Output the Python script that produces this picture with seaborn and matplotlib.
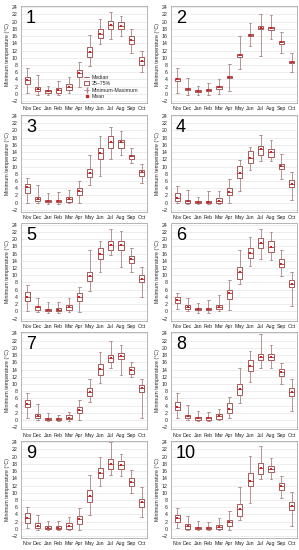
import pandas as pd
import matplotlib
matplotlib.use("Agg")
import matplotlib.pyplot as plt
import seaborn as sns
from matplotlib.lines import Line2D
from matplotlib.patches import Patch

sns.set_style("whitegrid")
plt.rcParams["font.family"] = ["Liberation Sans", "DejaVu Sans"]

months = ["Nov", "Dec", "Jan", "Feb", "Mar", "Apr", "May", "Jun", "Jul", "Aug", "Sep", "Oct"]

# per panel: minimum, 25%, median, 75%, maximum, mean (one value per month)
p1_min = [0.4, -0.3, -0.4, -0.3, 0.2, 2.0, 7.7, 13.8, 15.3, 15.9, 11.3, 6.1]
p1_q1 = [2.8, 0.8, 0.4, 0.4, 1.1, 4.6, 10.2, 15.5, 18.0, 18.0, 13.7, 7.9]
p1_med = [3.9, 1.3, 0.7, 1.1, 2.0, 5.7, 11.6, 16.6, 19.1, 18.9, 14.8, 9.1]
p1_q3 = [4.8, 2.0, 1.2, 1.7, 2.8, 6.6, 13.1, 18.0, 20.2, 20.0, 16.0, 10.2]
p1_max = [7.1, 5.1, 2.2, 3.7, 4.8, 8.9, 16.3, 20.6, 22.6, 21.6, 18.0, 12.0]
p1_mean = [3.9, 1.3, 0.7, 1.0, 2.0, 5.8, 11.6, 16.7, 19.1, 18.8, 14.8, 9.2]

p2_min = [0.3, -0.2, -0.3, -0.2, 0.1, 0.7, 6.9, 13.3, 10.5, 15.2, 11.3, 6.2]
p2_q1 = [3.7, 1.1, 0.5, 0.7, 1.5, 4.4, 10.3, 15.9, 17.9, 17.8, 13.9, 8.6]
p2_med = [4.0, 1.4, 0.8, 1.0, 1.8, 4.7, 10.7, 16.3, 18.3, 18.2, 14.3, 8.9]
p2_q3 = [4.3, 1.7, 1.1, 1.3, 2.1, 5.0, 11.1, 16.7, 18.7, 18.6, 14.7, 9.2]
p2_max = [7.1, 4.3, 2.3, 2.9, 4.1, 8.4, 16.0, 19.6, 22.2, 21.8, 17.1, 11.3]
p2_mean = [4.0, 1.4, 0.8, 1.0, 1.8, 4.7, 10.7, 16.3, 18.3, 18.2, 14.3, 8.9]

p3_min = [0.0, -0.2, -0.3, -0.3, -0.2, 0.0, 5.0, 7.5, 12.0, 13.3, 11.1, 5.4]
p3_q1 = [2.8, 0.5, 0.2, 0.2, 0.3, 2.0, 7.1, 12.2, 15.2, 15.2, 12.2, 7.5]
p3_med = [4.3, 1.1, 0.5, 0.5, 0.9, 3.1, 8.1, 13.8, 16.8, 16.7, 12.8, 8.4]
p3_q3 = [5.2, 1.7, 0.8, 0.8, 1.5, 4.1, 9.2, 15.2, 18.4, 17.3, 13.3, 9.0]
p3_max = [6.7, 5.0, 2.8, 3.0, 3.5, 6.1, 13.2, 18.5, 20.8, 19.9, 15.2, 10.8]
p3_mean = [4.4, 1.1, 0.5, 0.5, 1.0, 3.1, 8.1, 13.8, 16.8, 16.7, 12.8, 8.4]

p4_min = [-0.2, -0.3, -0.3, -0.3, -0.3, -0.2, 3.2, 9.1, 11.6, 11.4, 6.5, 0.7]
p4_q1 = [0.5, 0.0, 0.0, 0.0, -0.2, 2.0, 6.8, 11.1, 13.3, 12.6, 9.2, 4.3]
p4_med = [1.3, 0.4, 0.2, 0.2, 0.5, 3.0, 8.1, 12.4, 14.8, 13.9, 10.1, 5.1]
p4_q3 = [2.6, 0.8, 0.4, 0.5, 1.3, 4.1, 10.1, 14.2, 15.8, 14.8, 10.7, 6.2]
p4_max = [4.5, 3.4, 1.7, 3.1, 3.1, 6.5, 11.8, 15.4, 18.8, 17.3, 13.5, 8.4]
p4_mean = [1.3, 0.4, 0.2, 0.2, 0.5, 3.0, 8.1, 12.4, 14.8, 13.9, 10.1, 5.1]

p5_min = [0.0, -0.2, -0.3, -0.3, -0.2, -0.2, 5.6, 10.9, 15.6, 12.2, 10.8, 4.1]
p5_q1 = [2.8, 0.5, 0.1, 0.1, 0.3, 2.8, 8.4, 14.5, 17.1, 17.1, 13.3, 8.1]
p5_med = [3.9, 1.1, 0.4, 0.5, 1.1, 4.1, 9.9, 15.8, 18.3, 18.3, 14.4, 9.1]
p5_q3 = [5.4, 1.5, 0.8, 0.9, 1.8, 5.0, 10.9, 17.4, 19.5, 19.5, 15.2, 10.1]
p5_max = [7.3, 3.7, 2.6, 2.6, 3.7, 6.8, 16.9, 19.5, 22.9, 22.1, 17.4, 12.2]
p5_mean = [3.9, 1.1, 0.4, 0.5, 1.1, 4.1, 9.9, 15.8, 18.3, 18.3, 14.4, 9.1]

p6_min = [0.7, 0.0, -0.3, -0.3, 0.0, 0.4, 7.7, 12.6, 14.4, 14.2, 9.9, 1.4]
p6_q1 = [2.2, 0.7, 0.3, 0.3, 0.7, 3.4, 9.0, 14.8, 17.4, 16.5, 12.2, 6.7]
p6_med = [3.1, 1.3, 0.7, 0.7, 1.3, 5.0, 10.8, 16.1, 18.8, 17.9, 13.2, 7.5]
p6_q3 = [4.1, 1.7, 1.0, 1.0, 1.7, 5.8, 12.2, 17.5, 20.2, 19.5, 14.5, 8.6]
p6_max = [5.0, 3.7, 2.4, 3.1, 4.5, 8.6, 16.9, 20.6, 22.9, 21.9, 17.1, 10.8]
p6_mean = [3.1, 1.3, 0.7, 0.7, 1.3, 5.0, 10.8, 16.1, 18.8, 17.9, 13.2, 7.5]

p7_min = [0.7, 0.0, -0.3, -0.3, -0.2, 0.0, 5.0, 10.3, 14.4, 12.6, 11.8, 0.7]
p7_q1 = [3.7, 0.5, 0.0, 0.0, 0.3, 2.0, 6.8, 12.6, 16.0, 16.8, 12.8, 7.9]
p7_med = [4.5, 1.1, 0.3, 0.3, 0.7, 2.8, 7.8, 14.2, 17.2, 17.8, 13.9, 8.8]
p7_q3 = [5.6, 1.7, 0.6, 0.6, 1.3, 3.7, 9.0, 15.4, 18.0, 18.5, 14.8, 9.8]
p7_max = [7.5, 4.5, 2.0, 1.5, 2.4, 5.6, 11.4, 18.9, 21.9, 20.8, 16.2, 11.4]
p7_mean = [4.5, 1.1, 0.3, 0.3, 0.7, 2.8, 7.8, 14.2, 17.2, 17.8, 13.9, 8.8]

p8_min = [0.7, 0.0, -0.3, -0.3, 0.0, 0.7, 4.7, 10.5, 14.4, 14.4, 10.1, 2.6]
p8_q1 = [2.8, 0.5, 0.1, 0.1, 0.3, 2.0, 7.1, 13.7, 16.5, 16.5, 12.2, 6.8]
p8_med = [3.7, 1.1, 0.5, 0.5, 1.1, 3.2, 8.6, 15.0, 17.5, 17.5, 13.3, 7.9]
p8_q3 = [5.0, 1.5, 0.8, 0.8, 1.8, 4.7, 10.1, 16.5, 18.3, 18.3, 14.1, 9.0]
p8_max = [7.4, 4.1, 2.6, 2.2, 3.1, 6.3, 14.4, 19.1, 23.8, 20.8, 15.8, 11.4]
p8_mean = [3.7, 1.1, 0.5, 0.5, 1.1, 3.2, 8.6, 15.0, 17.5, 17.5, 13.3, 7.9]

p9_min = [0.3, -0.2, -0.3, -0.3, -0.2, -0.2, 3.9, 12.0, 15.0, 14.6, 9.8, 3.3]
p9_q1 = [1.7, 0.3, 0.0, 0.0, 0.1, 1.3, 7.4, 14.2, 16.5, 16.6, 12.0, 6.2]
p9_med = [3.0, 0.9, 0.4, 0.4, 0.9, 2.7, 9.2, 15.5, 17.9, 17.7, 13.0, 7.4]
p9_q3 = [4.3, 1.6, 0.8, 0.8, 1.7, 3.7, 10.7, 16.8, 19.2, 18.7, 14.2, 8.3]
p9_max = [6.1, 3.9, 2.3, 2.2, 3.3, 5.7, 15.0, 19.8, 24.0, 20.7, 16.2, 11.6]
p9_mean = [3.0, 0.9, 0.4, 0.4, 0.9, 2.7, 9.2, 15.5, 17.9, 17.7, 13.0, 7.4]

p10_min = [0.3, -0.2, -0.3, -0.3, -0.3, -0.2, 2.6, 7.2, 13.7, 13.7, 8.5, 0.7]
p10_q1 = [1.8, 0.1, 0.0, 0.0, 0.0, 0.9, 3.7, 12.0, 15.2, 15.7, 10.9, 5.3]
p10_med = [2.9, 0.9, 0.3, 0.3, 0.5, 1.8, 5.5, 13.3, 16.8, 16.6, 11.8, 6.3]
p10_q3 = [3.9, 1.3, 0.6, 0.6, 1.1, 2.6, 6.8, 15.5, 18.1, 17.5, 12.6, 7.4]
p10_max = [5.9, 3.7, 2.2, 2.0, 2.9, 5.0, 11.6, 20.1, 22.9, 19.6, 14.6, 10.3]
p10_mean = [2.9, 0.9, 0.3, 0.3, 0.5, 1.8, 5.5, 13.3, 16.8, 16.6, 11.8, 6.3]

panels = [
    (p1_min, p1_q1, p1_med, p1_q3, p1_max, p1_mean),
    (p2_min, p2_q1, p2_med, p2_q3, p2_max, p2_mean),
    (p3_min, p3_q1, p3_med, p3_q3, p3_max, p3_mean),
    (p4_min, p4_q1, p4_med, p4_q3, p4_max, p4_mean),
    (p5_min, p5_q1, p5_med, p5_q3, p5_max, p5_mean),
    (p6_min, p6_q1, p6_med, p6_q3, p6_max, p6_mean),
    (p7_min, p7_q1, p7_med, p7_q3, p7_max, p7_mean),
    (p8_min, p8_q1, p8_med, p8_q3, p8_max, p8_mean),
    (p9_min, p9_q1, p9_med, p9_q3, p9_max, p9_mean),
    (p10_min, p10_q1, p10_med, p10_q3, p10_max, p10_mean),
]

box_col = "#9c3c3c"
whisk_col = "#a88484"
mean_col = "#d42020"
fs = 3.8

fig = plt.figure(figsize=(2.99, 5.5), dpi=100)
W, H = 299, 550

for i, (mn, q1, md, q3, mx, mean) in enumerate(panels):
    row, col = i // 2, i % 2
    left = 21 if col == 0 else 171
    top = 6 + 108.75 * row
    ax = fig.add_axes([left / W, 1 - (top + 97) / H, 126 / W, 97 / H])

    # five values per month -> quartiles of these are exactly q1/median/q3
    long = pd.DataFrame({
        "month": months * 5,
        "t": mn + q1 + md + q3 + mx,
    })
    sns.boxplot(data=long, x="month", y="t", order=months, whis=(0, 100), width=0.5,
                color="white", linewidth=0.6, showfliers=False, ax=ax,
                boxprops=dict(edgecolor=box_col, facecolor="white"),
                whiskerprops=dict(color=whisk_col, linewidth=0.6),
                capprops=dict(color=whisk_col, linewidth=0.6),
                medianprops=dict(color=box_col, linewidth=0.6))
    sns.stripplot(x=months, y=mean, order=months, jitter=False, marker="s", size=2,
                  color=mean_col, linewidth=0, ax=ax, zorder=5)

    ax.set_ylim(-2.5, 24.3)
    ax.set_yticks(range(-2, 25, 2))
    ax.set_xlim(-0.6, 11.5)
    ax.set_xlabel("")
    ax.set_ylabel("Minimum temperature (°C)", fontsize=fs, labelpad=1)
    ax.tick_params(axis="both", labelsize=fs, length=1.5, width=0.4, pad=1, color="#888888")
    ax.grid(axis="y", color="#e0e0e0", linewidth=0.4)
    ax.grid(axis="x", visible=False)
    for s in ax.spines.values():
        s.set_color("#999999")
        s.set_linewidth(0.5)
    ax.text(0.04, 0.96, str(i + 1), transform=ax.transAxes, fontsize=13,
            va="top", ha="left", color="black")

    if i == 0:
        handles = [
            Line2D([], [], color=box_col, linewidth=0.6),
            Patch(facecolor="white", edgecolor=box_col, linewidth=0.6),
            Line2D([], [], color=whisk_col, linewidth=0.6, marker="|", markersize=4),
            Line2D([], [], color=mean_col, marker="s", markersize=2, linestyle="none"),
        ]
        ax.legend(handles, ["Median", "25–75%", "Minimum-Maximum", "Mean"],
                  loc="lower left", bbox_to_anchor=(0.47, 0.0), fontsize=fs,
                  frameon=False, handlelength=1.0, handletextpad=0.4,
                  labelspacing=0.3, borderpad=0.2)

fig.savefig("out.png", dpi=100)
